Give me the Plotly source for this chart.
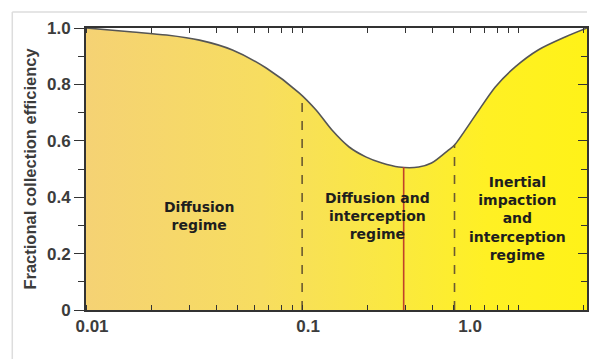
import math
import plotly.graph_objects as go

# Particle diameter (um) and fractional collection efficiency
diameter = [0.01, 0.01648, 0.0236, 0.0335, 0.0476, 0.0682, 0.0968, 0.116, 0.1374, 0.165,
            0.197, 0.234, 0.28, 0.346, 0.397, 0.475, 0.507, 0.634, 0.783, 0.968,
            1.236, 1.648, 2.08]
efficiency = [1.0, 0.986, 0.975, 0.957, 0.922, 0.858, 0.770, 0.709, 0.638, 0.578,
              0.543, 0.521, 0.507, 0.507, 0.521, 0.567, 0.585, 0.691, 0.791, 0.862,
              0.922, 0.968, 1.0]

# Regime boundaries (dashed) and the minimum marker (red)
boundary_x = [0.1, 0.507]
boundary_y = [0.757, 0.585]
minimum_x = 0.295
minimum_y = 0.507

# Regime labels
regime_labels = ["Diffusion<br>regime",
                 "Diffusion and<br>interception<br>regime",
                 "Inertial<br>impaction<br>and<br>interception<br>regime"]
regime_x = [0.0335, 0.224, 0.99]
regime_y = [0.333, 0.333, 0.323]

x_tick_vals = [0.01, 0.1, 0.562]
x_tick_text = ["0.01", "0.1", "1.0"]
y_tick_vals = [0, 0.2, 0.4, 0.6, 0.8, 1.0]
y_tick_text = ["0", "0.2", "0.4", "0.6", "0.8", "1.0"]

FONT = "Liberation Sans, Arial, Helvetica"

fig = go.Figure()

fig.add_trace(go.Scatter(
    x=diameter, y=efficiency, mode="lines",
    line=dict(color="#555555", width=1.6, shape="spline", smoothing=0.8),
    fill="tozeroy",
    fillgradient=dict(type="horizontal",
                      colorscale=[[0, "#F5D274"], [0.35, "#F7DD60"], [0.6, "#FAE842"],
                                  [0.8, "#FFF024"], [1, "#FFF218"]]),
    showlegend=False, hoverinfo="skip"))

for bx, by in zip(boundary_x, boundary_y):
    fig.add_trace(go.Scatter(x=[bx, bx], y=[0, by], mode="lines",
                             line=dict(color="#6B5A30", width=1.6, dash="dash"),
                             showlegend=False, hoverinfo="skip"))

fig.add_trace(go.Scatter(x=[minimum_x, minimum_x], y=[0, minimum_y], mode="lines",
                         line=dict(color="#C0402A", width=1.6),
                         showlegend=False, hoverinfo="skip"))

# invisible trace for right axis
fig.add_trace(go.Scatter(x=[diameter[0]], y=[0], yaxis="y2", mode="markers",
                         marker=dict(opacity=0), showlegend=False, hoverinfo="skip"))

for txt, tx, ty in zip(regime_labels, regime_x, regime_y):
    fig.add_annotation(x=math.log10(tx), y=ty, xref="x", yref="y", text=txt,
                       showarrow=False,
                       font=dict(family="DejaVu Sans", size=14, color="#1E1E1E", weight="bold"),
                       align="center")

tickfont = dict(size=17, color="#3C3C3C", family=FONT, weight="bold")

fig.update_layout(
    width=589, height=359,
    margin=dict(l=86, r=0, t=28, b=49),
    paper_bgcolor="white", plot_bgcolor="white",
    font=dict(family=FONT, color="#333333"),
    xaxis=dict(type="log", range=[-2, 0.318], tickmode="array", tickvals=x_tick_vals,
               ticktext=x_tick_text, ticks="", ticklabelshift=6,
               tickfont=tickfont,
               showline=True, linecolor="#333333", linewidth=2, mirror="allticks",
               showgrid=False, zeroline=False,
               minor=dict(ticks="inside", ticklen=5, tickcolor="#333333", dtick="D1", showgrid=False)),
    yaxis=dict(range=[0, 1.0], tickmode="array", tickvals=y_tick_vals, ticktext=y_tick_text,
               ticks="outside", ticklen=10, tickcolor="#333333", tickwidth=1,
               tickfont=tickfont,
               showline=True, linecolor="#333333", linewidth=2, mirror=True,
               showgrid=False, zeroline=False,
               minor=dict(ticks="outside", ticklen=6, tickcolor="#333333", dtick=0.1, showgrid=False),
               title=dict(text="Fractional collection efficiency", standoff=6,
                          font=dict(size=16.5, color="#3C3C3C", family=FONT, weight="bold"))),
    yaxis2=dict(range=[0, 1.0], overlaying="y", side="right", showticklabels=False,
                tickvals=y_tick_vals, ticks="inside", ticklen=9, tickcolor="#333333",
                showgrid=False, zeroline=False, showline=False,
                minor=dict(ticks="inside", ticklen=6, tickcolor="#333333", dtick=0.1, showgrid=False)),
)

# light frame of the original screenshot
fig.add_shape(type="line", xref="paper", yref="paper", x0=-74/503, x1=1.0, y0=1 + 16/282, y1=1 + 16/282,
              line=dict(color="#DDDDDD", width=1.5))
fig.add_shape(type="line", xref="paper", yref="paper", x0=-74/503, x1=-74/503, y0=1 + 16/282, y1=-49/282,
              line=dict(color="#DDDDDD", width=1.5))

fig.write_html("out.html")
